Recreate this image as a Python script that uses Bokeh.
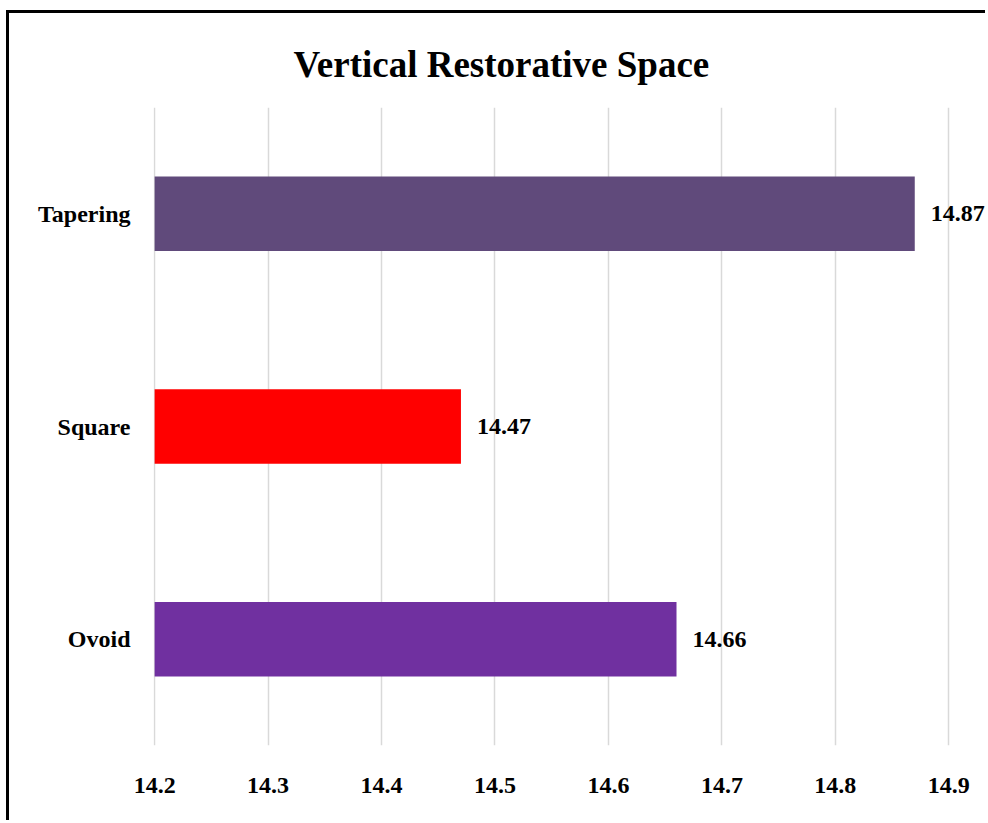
from bokeh.plotting import figure
from bokeh.models import (ColumnDataSource, FactorRange, Range1d, FixedTicker,
                          LabelSet)
from bokeh.embed import file_html
from bokeh.resources import INLINE

# Data
categories = ["Ovoid", "Square", "Tapering"]
values = [14.66, 14.47, 14.87]
colors = ["#7030A0", "#FF0000", "#604A7B"]
x_ticks = [14.2, 14.3, 14.4, 14.5, 14.6, 14.7, 14.8, 14.9]
baseline = 14.2

FONT = "Liberation Serif"

source = ColumnDataSource(data=dict(
    cat=categories,
    val=values,
    base=[baseline] * len(values),
    color=colors,
    label=[f"{v:.2f}" for v in values],
))

p = figure(
    width=979, height=810,
    y_range=FactorRange(factors=categories),
    x_range=Range1d(14.199, 14.935),
    output_backend="svg", toolbar_location=None,
    min_border_left=144, min_border_right=0,
    min_border_top=94, min_border_bottom=78,
    title="Vertical Restorative Space",
)

# Outer chart frame (left and top edges visible in the window)
p.styles = {
    "border-left": "3px solid black",
    "border-top": "3px solid black",
    "margin-left": "6px",
    "margin-top": "10px",
}

p.title.align = "left"
p.title.offset = 140
p.title.standoff = 46
p.title.text_font = FONT
p.title.text_font_style = "bold"
p.title.text_font_size = "37px"
p.title.text_color = "black"

p.hbar(y="cat", left="base", right="val", height=0.35,
       fill_color="color", line_color=None, source=source)

labels = LabelSet(x="val", y="cat", text="label", source=source,
                  x_offset=16, text_baseline="middle", text_align="left",
                  text_font=FONT, text_font_style="bold",
                  text_font_size="24px", text_color="black")
p.add_layout(labels)

# Axes
p.xaxis.ticker = FixedTicker(ticks=x_ticks)
p.xaxis.major_label_overrides = {t: f"{t:.1f}" for t in x_ticks}
for ax in (p.xaxis, p.yaxis):
    ax.axis_line_color = None
    ax.major_tick_line_color = None
    ax.minor_tick_line_color = None
    ax.major_label_text_font = FONT
    ax.major_label_text_font_style = "bold"
    ax.major_label_text_font_size = "24px"
    ax.major_label_text_color = "black"
p.xaxis.major_label_standoff = 26
p.yaxis.major_label_standoff = 17

p.xgrid.ticker = FixedTicker(ticks=x_ticks)
p.xgrid.grid_line_color = "#D9D9D9"
p.xgrid.grid_line_width = 1.5
p.ygrid.grid_line_color = None

p.outline_line_color = None
p.background_fill_color = "white"
p.border_fill_color = "white"

open("out.html", "w").write(file_html(p, INLINE))
